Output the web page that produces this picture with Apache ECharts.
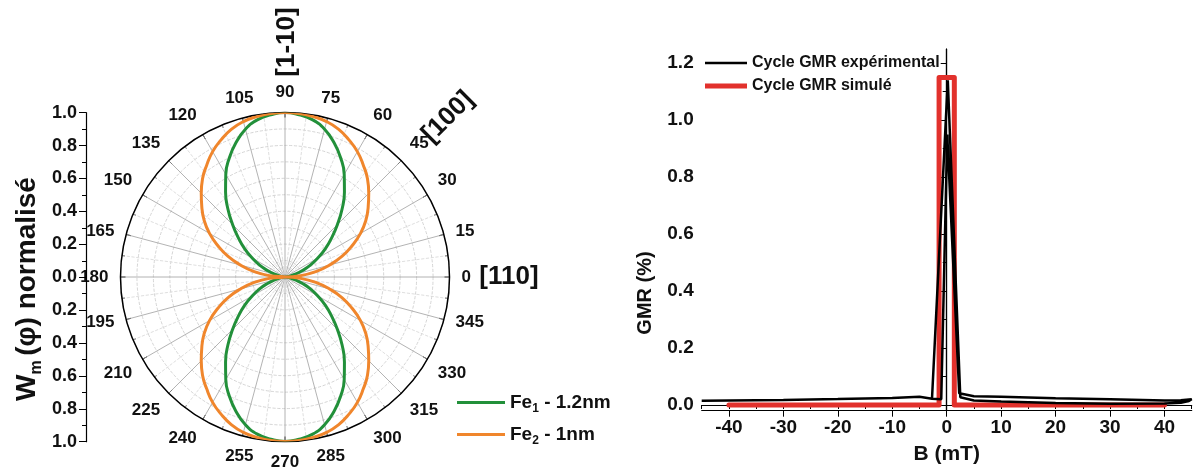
<!DOCTYPE html>
<html>
<head>
<meta charset="utf-8">
<script src="https://cdn.jsdelivr.net/npm/echarts@6/dist/echarts.min.js"></script>
<style>
  html, body { margin: 0; padding: 0; background: #fff; }
  #chart { width: 1193px; height: 470px; }
</style>
</head>
<body>
<div id="chart"></div>
<script>
// polar plot: normalised W_m(phi), read every 5 deg on the first quadrant
// (the curves are symmetric, the other quadrants mirror these readings)
var quarterAngles = [0, 5, 10, 15, 20, 25, 30, 35, 40, 45, 50, 55, 60, 65, 70, 75, 80, 85, 90]
var fe1Quarter = [0, 0.008, 0.03, 0.065, 0.11, 0.17, 0.23, 0.3, 0.37, 0.45, 0.54, 0.63, 0.72, 0.8, 0.87, 0.93, 0.97, 0.99, 1.0]
var fe2Quarter = [0, 0.095, 0.19, 0.28, 0.37, 0.45, 0.53, 0.6, 0.66, 0.72, 0.78, 0.83, 0.88, 0.92, 0.955, 0.978, 0.99, 0.998, 1.0]
var angleTicks = [0, 15, 30, 45, 60, 75, 90, 105, 120, 135, 150, 165, 180, 195, 210, 225, 240, 255, 270, 285, 300, 315, 330, 345]

// GMR cycle, B in mT, GMR in %
var expB = [-45, -30, -20, -10, -5, -2.7, -2.4, 0.2, 2.5, 5, 10, 20, 30, 40, 43, 44.5, 45,
  43, 40, 30, 20, 10, 5, 2.3, 0.1, -1.0, -2.7, -5, -10, -20, -30, -45]
var expGMR = [0.015, 0.018, 0.021, 0.025, 0.029, 0.022, 0.02, 1.14, 0.027, 0.016, 0.012, 0.007, 0.004, 0.005, 0.008, 0.014, 0.02,
  0.017, 0.016, 0.02, 0.024, 0.029, 0.031, 0.041, 0.95, 0.02, 0.022, 0.029, 0.025, 0.021, 0.018, 0.015]
var simB = [-40, -1.4, -1.4, 1.4, 1.4, 40]
var simGMR = [0, 0, 1.15, 1.15, 0, 0]
var bTicks = [-40, -30, -20, -10, 0, 10, 20, 30, 40]
var bMinor = [-45, -35, -25, -15, -5, 5, 15, 25, 35, 45]
var gmrTicks = [0, 0.2, 0.4, 0.6, 0.8, 1.0, 1.2]
var gmrMinor = [0.1, 0.3, 0.5, 0.7, 0.9, 1.1]

var FONT = 'Liberation Sans, Arial, sans-serif'
var GREEN = '#22903a'
var ORANGE = '#f0862c'
var RED = '#e2312c'

function fullTurn (quarter) {
  var out = []
  for (var a = 0; a <= 360; a += 5) {
    var i = a % 180
    if (i > 90) i = 180 - i
    out.push([quarter[quarterAngles.indexOf(i)], a])
  }
  return out
}

function pairs (xs, ys) {
  return xs.map(function (x, i) { return [x, ys[i]] })
}

var bold = { color: '#111', fontWeight: 'bold', fontFamily: FONT }

var option = {
  animation: false,
  textStyle: { fontFamily: FONT },
  polar: { center: [285, 277], radius: 164.5 },
  angleAxis: {
    type: 'value', min: 0, max: 360, interval: 15,
    startAngle: 0, clockwise: false,
    axisLine: { lineStyle: { color: '#000', width: 1.5 } },
    axisTick: { inside: true, length: 5, lineStyle: { color: '#000' } },
    minorTick: { show: true, splitNumber: 2, length: 3, lineStyle: { color: '#000' } },
    axisLabel: Object.assign({ margin: 12, fontSize: 17, formatter: function (v) {
      return angleTicks.indexOf(v) >= 0 ? String(v) : ''
    } }, bold),
    splitLine: { lineStyle: { color: '#a0a0a0', width: 0.8 } },
    minorSplitLine: { show: true, lineStyle: { color: '#d6d6d6', type: 'dashed', width: 0.8 } }
  },
  radiusAxis: {
    min: 0, max: 1, interval: 0.1,
    axisLine: { show: false }, axisTick: { show: false }, axisLabel: { show: false },
    splitLine: { lineStyle: { color: '#cacaca', type: 'dashed', width: 0.8 } }
  },
  grid: [
    { left: 86, top: 112.7, width: 1, height: 329 },
    { left: 701.7, top: 49, right: 1.3, bottom: 59.3 }
  ],
  xAxis: [
    { gridIndex: 0, type: 'value', show: false },
    {
      gridIndex: 1, type: 'value', min: -45, max: 45, position: 'bottom',
      name: 'B (mT)', nameLocation: 'middle', nameGap: 33,
      nameTextStyle: Object.assign({ fontSize: 21 }, bold),
      axisLine: { onZero: false, lineStyle: { color: '#000', width: 1.2 } },
      axisTick: { customValues: bTicks, length: 6, lineStyle: { color: '#000' } },
      axisLabel: Object.assign({ customValues: bTicks, fontSize: 19, margin: 8 }, bold),
      splitLine: { show: false }
    },
    {
      gridIndex: 1, type: 'value', min: -45, max: 45, position: 'bottom',
      axisLine: { show: false },
      axisTick: { customValues: bMinor, length: 3, lineStyle: { color: '#000' } },
      axisLabel: { show: false }, splitLine: { show: false }
    },
    {
      gridIndex: 1, type: 'value', min: -45, max: 45, interval: 5, position: 'top',
      axisLine: { lineStyle: { color: '#000', width: 1.2 } },
      axisTick: { inside: true, length: 4, lineStyle: { color: '#000' } },
      axisLabel: { show: false }, splitLine: { show: false }
    }
  ],
  yAxis: [
    {
      gridIndex: 0, type: 'value', min: -1, max: 1, interval: 0.2, position: 'left',
      axisLine: { lineStyle: { color: '#000', width: 1.2 } },
      axisTick: { length: 7, lineStyle: { color: '#000' } },
      minorTick: { show: true, splitNumber: 2, length: 4, lineStyle: { color: '#000' } },
      axisLabel: Object.assign({ fontSize: 18, margin: 9, formatter: function (v) {
        return Math.abs(v).toFixed(1)
      } }, bold),
      splitLine: { show: false }
    },
    {
      gridIndex: 1, type: 'value', min: -0.02, max: 1.25, position: 'left',
      axisLine: { lineStyle: { color: '#000', width: 1.2 } },
      axisTick: { customValues: gmrTicks, length: 6, lineStyle: { color: '#000' } },
      axisLabel: Object.assign({ customValues: gmrTicks, fontSize: 19, margin: 8, formatter: function (v) {
        return v.toFixed(1)
      } }, bold),
      splitLine: { show: false }
    },
    {
      gridIndex: 1, type: 'value', min: -0.02, max: 1.25, position: 'left',
      axisLine: { show: false },
      axisTick: { customValues: gmrMinor, length: 3, lineStyle: { color: '#000' } },
      axisLabel: { show: false }, splitLine: { show: false }
    },
    {
      gridIndex: 1, type: 'value', min: -0.02, max: 1.25, position: 'right',
      axisLine: { lineStyle: { color: '#000', width: 1.2 } },
      axisTick: { inside: true, customValues: gmrTicks.concat(gmrMinor), length: 4, lineStyle: { color: '#000' } },
      axisLabel: { show: false }, splitLine: { show: false }
    }
  ],
  legend: [
    {
      data: [
        { name: 'Fe1 - 1.2nm', icon: 'path://M0,0H48V3.2H0Z' },
        { name: 'Fe2 - 1nm', icon: 'path://M0,0H48V3.2H0Z' }
      ],
      left: 457, top: 393, padding: 0, orient: 'vertical', itemWidth: 48, itemHeight: 6, itemGap: 10,
      formatter: function (name) {
        return '{a|Fe}{s|' + name.charAt(2) + '}{a|' + name.slice(3) + '}'
      },
      textStyle: {
        rich: {
          a: Object.assign({ fontSize: 19 }, bold),
          s: Object.assign({ fontSize: 12, padding: [13, 0, 0, 0] }, bold)
        }
      }
    },
    {
      data: [
        { name: 'Cycle GMR expérimental', icon: 'path://M0,0H42V2.5H0Z' },
        { name: 'Cycle GMR simulé', icon: 'path://M0,0H42V5H0Z' }
      ],
      left: 705, top: 55, padding: 0, orient: 'vertical', itemWidth: 42, itemHeight: 6, itemGap: 7,
      textStyle: Object.assign({ fontSize: 16 }, bold)
    }
  ],
  graphic: [
    { type: 'text', x: 27, y: 289, rotation: Math.PI / 2,
      style: {
        text: '{a|W}{s|m }{a|(\u03c6) normalisé}', align: 'center', verticalAlign: 'middle',
        rich: {
          a: { font: 'bold 28px ' + FONT, fill: '#111' },
          s: { font: 'bold 16px ' + FONT, fill: '#111', padding: [20, 0, 0, 0] }
        }
      } },
    { type: 'text', x: 645, y: 293, rotation: Math.PI / 2,
      style: { text: 'GMR (%)', font: 'bold 20px ' + FONT, fill: '#111', align: 'center', verticalAlign: 'middle' } },
    { type: 'text', x: 287, y: 42, rotation: Math.PI / 2,
      style: { text: '[1-10]', font: 'bold 26px ' + FONT, fill: '#111', align: 'center', verticalAlign: 'middle' } },
    { type: 'text', x: 448, y: 117, rotation: Math.PI / 4,
      style: { text: '[100]', font: 'bold 26px ' + FONT, fill: '#111', align: 'center', verticalAlign: 'middle' } },
    { type: 'text', x: 509, y: 277,
      style: { text: '[110]', font: 'bold 26px ' + FONT, fill: '#111', align: 'center', verticalAlign: 'middle' } }
  ],
  series: [
    {
      name: 'Fe1 - 1.2nm', type: 'line', coordinateSystem: 'polar', polarIndex: 0,
      data: fullTurn(fe1Quarter), smooth: true, symbol: 'none',
      lineStyle: { color: GREEN, width: 3 }, itemStyle: { color: GREEN }
    },
    {
      name: 'Fe2 - 1nm', type: 'line', coordinateSystem: 'polar', polarIndex: 0,
      data: fullTurn(fe2Quarter), smooth: true, symbol: 'none',
      lineStyle: { color: ORANGE, width: 3 }, itemStyle: { color: ORANGE }
    },
    {
      name: 'Cycle GMR expérimental', type: 'line', xAxisIndex: 1, yAxisIndex: 1,
      data: pairs(expB, expGMR), symbol: 'none', z: 4,
      lineStyle: { color: '#000', width: 2.5 }, itemStyle: { color: '#000' }
    },
    {
      name: 'Cycle GMR simulé', type: 'line', xAxisIndex: 1, yAxisIndex: 1,
      data: pairs(simB, simGMR), symbol: 'none', z: 3,
      lineStyle: { color: RED, width: 5, join: 'round', cap: 'round' }, itemStyle: { color: RED }
    }
  ]
}

var chart = echarts.init(document.getElementById('chart'))
chart.setOption(option)
</script>
</body>
</html>
